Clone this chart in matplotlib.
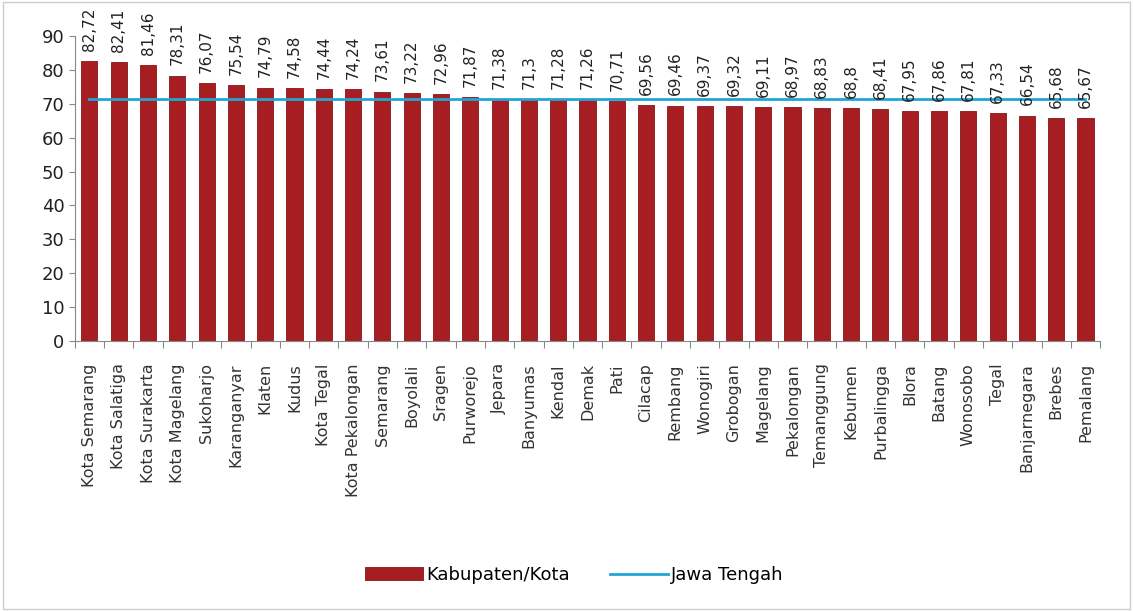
import numpy as np
import matplotlib.pyplot as plt
from matplotlib.patches import Rectangle

# Angka harapan hidup per kabupaten/kota, Jawa Tengah
regions = ['Kota Semarang', 'Kota Salatiga', 'Kota Surakarta', 'Kota Magelang',
           'Sukoharjo', 'Karanganyar', 'Klaten', 'Kudus', 'Kota Tegal',
           'Kota Pekalongan', 'Semarang', 'Boyolali', 'Sragen', 'Purworejo',
           'Jepara', 'Banyumas', 'Kendal', 'Demak', 'Pati', 'Cilacap',
           'Rembang', 'Wonogiri', 'Grobogan', 'Magelang', 'Pekalongan',
           'Temanggung', 'Kebumen', 'Purbalingga', 'Blora', 'Batang',
           'Wonosobo', 'Tegal', 'Banjarnegara', 'Brebes', 'Pemalang']
values = [82.72, 82.41, 81.46, 78.31, 76.07, 75.54, 74.79, 74.58, 74.44,
          74.24, 73.61, 73.22, 72.96, 71.87, 71.38, 71.3, 71.28, 71.26,
          70.71, 69.56, 69.46, 69.37, 69.32, 69.11, 68.97, 68.83, 68.8,
          68.41, 67.95, 67.86, 67.81, 67.33, 66.54, 65.68, 65.67]
label_text = ['82,72', '82,41', '81,46', '78,31', '76,07', '75,54', '74,79',
              '74,58', '74,44', '74,24', '73,61', '73,22', '72,96', '71,87',
              '71,38', '71,3', '71,28', '71,26', '70,71', '69,56', '69,46',
              '69,37', '69,32', '69,11', '68,97', '68,83', '68,8', '68,41',
              '67,95', '67,86', '67,81', '67,33', '66,54', '65,68', '65,67']
jateng = 71.4

fig = plt.figure(figsize=(11.33, 6.11), dpi=100)
ax = fig.add_axes([0.066, 0.442, 0.905, 0.499])

x = np.arange(len(regions))
bars = ax.bar(x, values, width=0.55, color='#A61E22', edgecolor='#8A1518',
              linewidth=0.6, label='Kabupaten/Kota', zorder=2)
line, = ax.plot([x[0], x[-1]], [jateng, jateng], color='#1FA6D4',
                linewidth=2, label='Jawa Tengah', zorder=3)

for xi, v, t in zip(x, values, label_text):
    ax.text(xi, v + 3, t, rotation=90, ha='center', va='bottom',
            fontsize=11, color='#222222', clip_on=False)

ax.set_xlim(-0.5, len(regions) - 0.5)
ax.set_ylim(0, 90)
ax.set_yticks(np.arange(0, 91, 10))
ax.tick_params(axis='y', labelsize=13, length=4, color='#888888',
               labelcolor='#222222')
ax.set_xticks(np.arange(-0.5, len(regions), 1), minor=False)
ax.set_xticklabels([])
ax.set_xticks(x, minor=True)
ax.set_xticklabels(regions, minor=True, rotation=90, fontsize=11.5,
                   color='#333333')
ax.tick_params(axis='x', which='major', length=5, color='#888888')
ax.tick_params(axis='x', which='minor', length=0, pad=16)
for s in ['top', 'right']:
    ax.spines[s].set_visible(False)
ax.spines['left'].set_color('#888888')
ax.spines['bottom'].set_color('#888888')

fig.legend(handles=[bars, line], loc='center', bbox_to_anchor=(0.507, 0.059),
           ncol=2, frameon=False, fontsize=13, handlelength=3.2,
           columnspacing=2.2, handletextpad=0.2)

fig.patches.append(Rectangle((0.003, 0.003), 0.994, 0.994, fill=False,
                             edgecolor='#cccccc', linewidth=1,
                             transform=fig.transFigure))

fig.savefig('out.png', dpi=100)
